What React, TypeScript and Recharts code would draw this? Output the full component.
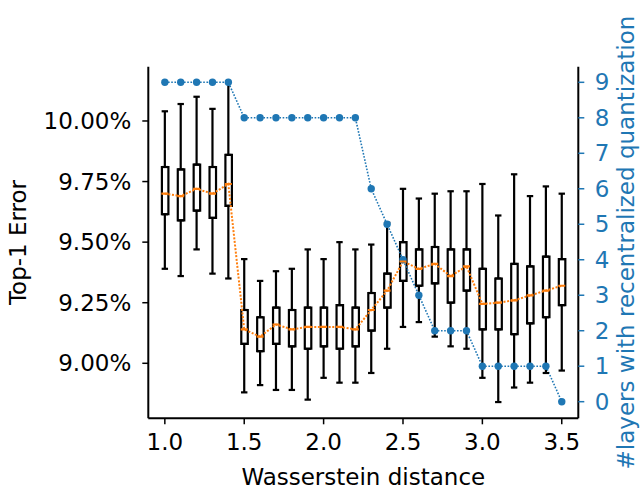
import React from 'react';
import { ComposedChart, Line, Bar, XAxis, YAxis, ErrorBar, Label } from 'recharts';

const distances = [1.0, 1.1, 1.2, 1.3, 1.4, 1.5, 1.6, 1.7, 1.8, 1.9, 2.0, 2.1, 2.2, 2.3, 2.4, 2.5, 2.6, 2.7, 2.8, 2.9, 3.0, 3.1, 3.2, 3.3, 3.4, 3.5];
const whiskerHigh = [10.04, 10.07, 10.10, 10.05, 10.16, 9.43, 9.34, 9.38, 9.39, 9.47, 9.43, 9.50, 9.47, 9.49, 9.58, 9.72, 9.68, 9.70, 9.71, 9.71, 9.74, 9.61, 9.78, 9.69, 9.73, 9.70];
const q3 = [9.81, 9.80, 9.82, 9.81, 9.86, 9.22, 9.19, 9.23, 9.22, 9.23, 9.23, 9.24, 9.23, 9.29, 9.37, 9.50, 9.47, 9.48, 9.47, 9.47, 9.39, 9.35, 9.41, 9.40, 9.44, 9.43];
const median = [9.70, 9.69, 9.72, 9.70, 9.74, 9.14, 9.11, 9.16, 9.14, 9.15, 9.15, 9.15, 9.14, 9.22, 9.30, 9.42, 9.39, 9.41, 9.36, 9.40, 9.245, 9.25, 9.26, 9.28, 9.30, 9.32];
const q1 = [9.615, 9.59, 9.63, 9.60, 9.65, 9.08, 9.05, 9.08, 9.07, 9.06, 9.07, 9.06, 9.07, 9.135, 9.23, 9.34, 9.32, 9.33, 9.25, 9.30, 9.14, 9.14, 9.12, 9.165, 9.19, 9.24];
const whiskerLow = [9.39, 9.36, 9.47, 9.37, 9.35, 8.88, 8.91, 8.89, 8.89, 8.85, 8.94, 8.92, 8.92, 8.96, 9.06, 9.15, 9.17, 9.11, 9.07, 9.06, 8.94, 8.84, 8.90, 8.92, 8.96, 8.97];
const layers = [9, 9, 9, 9, 9, 8, 8, 8, 8, 8, 8, 8, 8, 6, 5, 4, 3, 2, 2, 2, 1, 1, 1, 1, 1, 0];
const errorTicks = [9.0, 9.25, 9.5, 9.75, 10.0];
const layerTicks = [0, 1, 2, 3, 4, 5, 6, 7, 8, 9];

const data = distances.map((d, i) => ({
  x: d.toFixed(1),
  median: median[i],
  box: [q1[i], q3[i]],
  q1: q1[i],
  q3: q3[i],
  upErr: [0, whiskerHigh[i] - q3[i]],
  loErr: [q1[i] - whiskerLow[i], 0],
  layers: layers[i],
}));

const BLUE = '#1f77b4';
const ORANGE = '#ff7f0e';
const FONT = 23;

const MedianDot = (props: any) => {
  const { cx, cy, index } = props;
  if (cx == null || cy == null) return <g key={`m-${index}`} />;
  return (
    <line key={`m-${index}`} x1={cx - 3.5} x2={cx + 3.5} y1={cy} y2={cy} stroke={ORANGE} strokeWidth={2.2} />
  );
};

export default function App() {
  return (
    <div style={{ position: 'absolute', left: 0, top: 0, width: 641, height: 489, background: '#fff', fontFamily: '"DejaVu Sans", sans-serif' }}>
      <ComposedChart width={641} height={489} data={data} margin={{ top: 66.7, right: 0, bottom: 0, left: 0 }}>
        <XAxis
          dataKey="x"
          type="category"
          interval={4}
          padding={{ left: 8.6, right: 8.6 }}
          height={70.7}
          tickSize={6}
          tickMargin={9}
          tick={{ fontSize: FONT, fill: '#000' }}
          axisLine={{ stroke: '#000', strokeWidth: 2 }}
          tickLine={{ stroke: '#000', strokeWidth: 1.5 }}
        >
          <Label value="Wasserstein distance" position="insideBottom" offset={4.5} style={{ fontSize: FONT, fill: '#000' }} />
        </XAxis>
        <XAxis xAxisId="top" dataKey="x" type="category" orientation="top" height={0} tick={false} tickLine={false} axisLine={{ stroke: '#000', strokeWidth: 2 }} />
        <YAxis
          yAxisId="left"
          type="number"
          domain={[8.773, 10.224]}
          ticks={errorTicks}
          allowDataOverflow
          interval={0}
          width={148.3}
          tickFormatter={(v: number) => v.toFixed(2) + '%'}
          tickSize={6}
          tickMargin={11}
          tick={{ fontSize: FONT, fill: '#000' }}
          axisLine={{ stroke: '#000', strokeWidth: 2 }}
          tickLine={{ stroke: '#000', strokeWidth: 1.5 }}
        >
          <Label value="Top-1 Error" angle={-90} position="insideLeft" offset={17.7} style={{ fontSize: FONT, fill: '#000', textAnchor: 'middle' }} />
        </YAxis>
        <YAxis
          yAxisId="right"
          orientation="right"
          type="number"
          domain={[-0.468, 9.44]}
          ticks={layerTicks}
          allowDataOverflow
          interval={0}
          width={62.7}
          tickSize={6}
          tickMargin={10.5}
          tick={{ fontSize: FONT, fill: BLUE }}
          axisLine={{ stroke: '#000', strokeWidth: 2 }}
          tickLine={{ stroke: BLUE, strokeWidth: 1.5 }}
        >
          <Label value="#layers with recentralized quantization" angle={-90} position="insideRight" offset={15} style={{ fontSize: FONT, fill: BLUE, textAnchor: 'middle' }} />
        </YAxis>

        <Line
          yAxisId="right"
          dataKey="layers"
          stroke={BLUE}
          strokeWidth={1.6}
          strokeDasharray="1.6 1.6"
          dot={{ r: 3.7, fill: BLUE, stroke: 'none', strokeDasharray: '' }}
          activeDot={false}
          isAnimationActive={false}
        />
        <Line yAxisId="left" dataKey="q3" stroke="none" dot={false} activeDot={false} isAnimationActive={false}>
          <ErrorBar dataKey="upErr" direction="y" width={3.2} stroke="#000" strokeWidth={2.2} />
        </Line>
        <Line yAxisId="left" dataKey="q1" stroke="none" dot={false} activeDot={false} isAnimationActive={false}>
          <ErrorBar dataKey="loErr" direction="y" width={3.2} stroke="#000" strokeWidth={2.2} />
        </Line>
        <Bar yAxisId="left" dataKey="box" barSize={6.5} fill="#fff" stroke="#000" strokeWidth={2.2} isAnimationActive={false} />
        <Line
          yAxisId="left"
          dataKey="median"
          stroke={ORANGE}
          strokeWidth={2}
          strokeDasharray="2 1.6"
          dot={MedianDot}
          activeDot={false}
          isAnimationActive={false}
        />
      </ComposedChart>
    </div>
  );
}
